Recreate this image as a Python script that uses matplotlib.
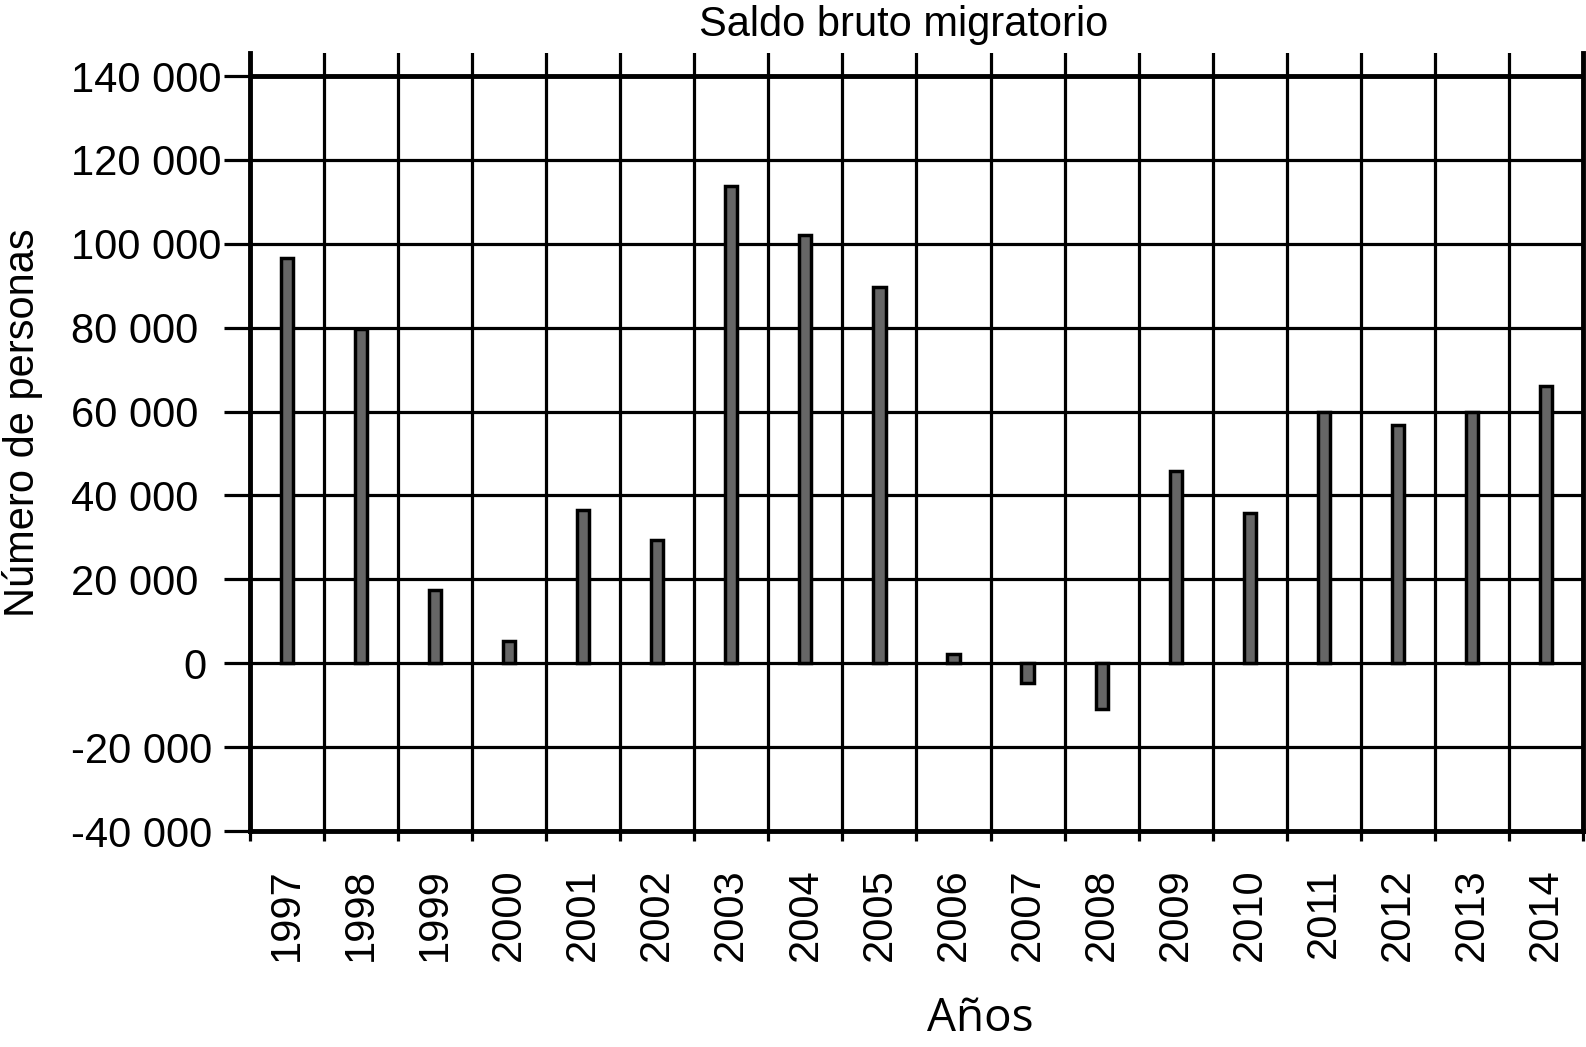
import matplotlib
matplotlib.use("Agg")
import matplotlib.pyplot as plt
import matplotlib.transforms as mtransforms
import numpy as np

# Saldo bruto migratorio, personas por año
years = ["1997", "1998", "1999", "2000", "2001", "2002", "2003", "2004", "2005",
         "2006", "2007", "2008", "2009", "2010", "2011", "2012", "2013", "2014"]
saldo = [96500, 79800, 17400, 5400, 36600, 29400, 113800, 102000, 89800,
         2200, -4700, -10800, 45900, 35900, 59800, 56900, 59800, 66200]

y_ticks = list(range(-40000, 140001, 20000))
y_labels = [f"{v:,}".replace(",", " ") for v in y_ticks]

plt.rcParams['font.family'] = ['Liberation Sans', 'DejaVu Sans']

fig = plt.figure(figsize=(15.86, 10.47), dpi=100)
ax = fig.add_axes([0.1576, 0.2063, 0.8405, 0.7431])

x = np.arange(len(years))
ax.bar(x, saldo, width=0.165, color='#666666', edgecolor='black',
       linewidth=2.5, zorder=3)

ax.set_xlim(-0.5, len(years) - 0.5)
ax.set_ylim(-40000, 145500)

# ticks and grid
ax.set_xticks(x)
ax.set_xticklabels(years, rotation=90)
ax.set_xticks(np.arange(-0.5, len(years)), minor=True)
ax.set_yticks(y_ticks)
ax.set_yticklabels(y_labels)

ax.xaxis.grid(True, which='minor', color='black', lw=2.3)
ax.yaxis.grid(True, which='major', color='black', lw=2.3)
ax.set_axisbelow(True)
ax.axhline(140000, color='black', lw=3.5, zorder=2)

ax.spines['top'].set_visible(False)
for s in ['left', 'right', 'bottom']:
    ax.spines[s].set_linewidth(3.5)

ax.tick_params(axis='x', which='major', length=0, pad=27, labelsize=30)
ax.tick_params(axis='x', which='minor', length=7.2, width=2.3, color='black')
ax.tick_params(axis='y', length=18.7, width=2.3, pad=110, labelsize=30)

for lab in ax.get_yticklabels():
    lab.set_ha('left')
    if lab.get_text() == "0":
        # the zero label sits next to the axis in the original
        lab.set_ha('right')
        lab.set_transform(mtransforms.offset_copy(lab.get_transform(), fig=fig,
                                                  x=135, units='dots'))

ax.set_title("Saldo bruto migratorio", fontsize=30, x=0.49, pad=12)
ax.set_xlabel("Años", fontsize=33, family=['Open Sans', 'DejaVu Sans'])
ax.xaxis.set_label_coords(0.548, -0.212)
fig.text(0.0145, 0.596, "Número de personas", fontsize=30, rotation=90,
         ha='center', va='center')

fig.savefig("out.png", dpi=100)
